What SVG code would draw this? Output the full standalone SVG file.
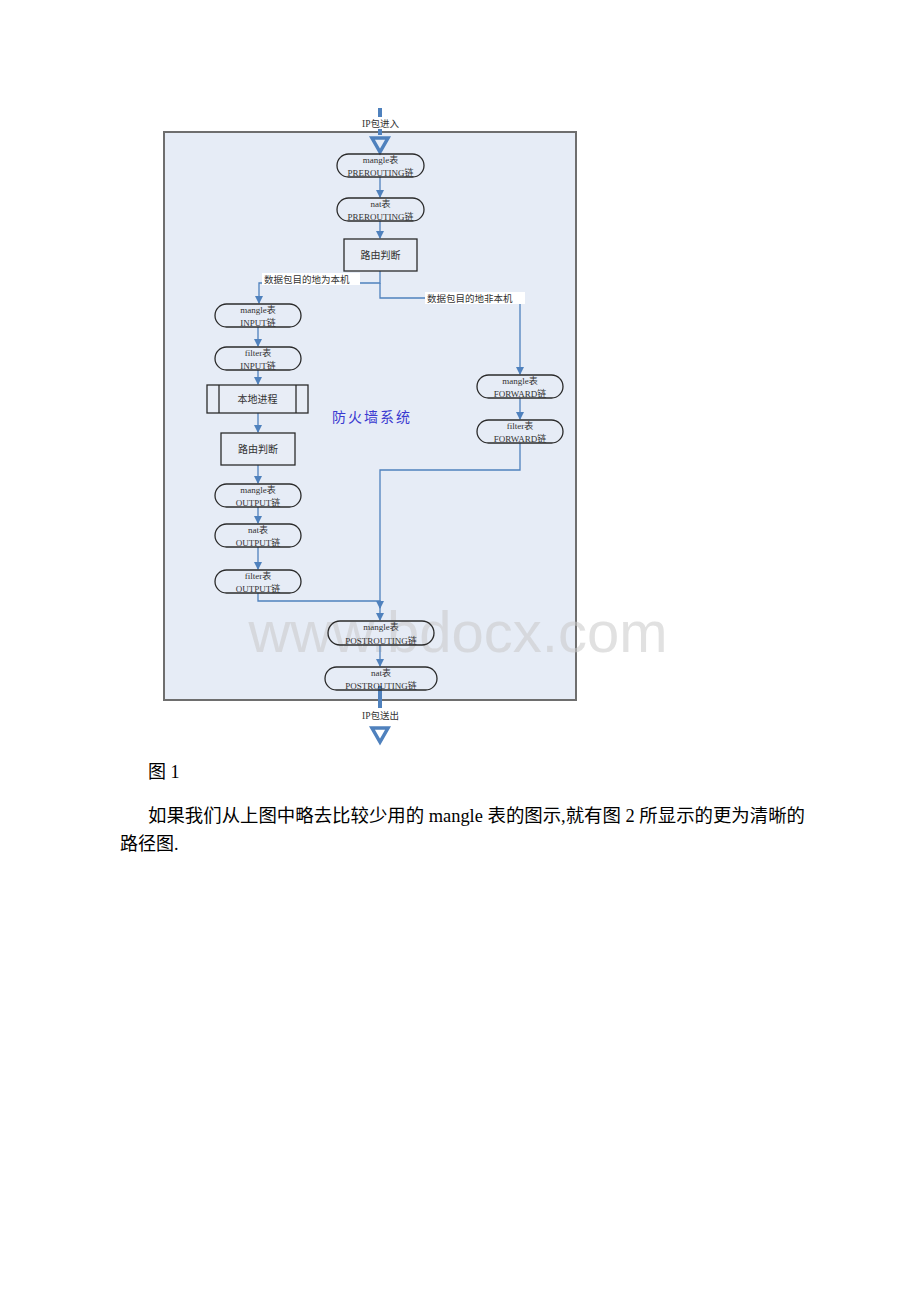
<svg xmlns="http://www.w3.org/2000/svg" width="920" height="1302" viewBox="0 0 920 1302">
<style>
.n{fill:none;stroke:#2b2b2b;stroke-width:1.3}
.b{fill:#e8edf6;stroke:#2b2b2b;stroke-width:1.3}
.t{font-family:"Liberation Serif","Noto Sans CJK SC",serif;font-size:9px;fill:#333;text-anchor:middle}
.t2{font-family:"Liberation Serif","Noto Sans CJK SC",serif;font-size:10px;fill:#333;text-anchor:middle}
.c{fill:none;stroke:#4f81bd;stroke-width:1.3}
.lbl{font-family:"Liberation Serif","Noto Sans CJK SC",serif;font-size:9.5px;fill:#333}
.p{font-family:"Liberation Serif","Noto Sans CJK SC",serif;font-size:18px;fill:#000}
</style>
<defs>
<marker id="a" markerWidth="8" markerHeight="8" refX="7" refY="4" orient="auto" markerUnits="userSpaceOnUse">
<path d="M0,0 L8,4 L0,8 Z" fill="#4f81bd"/>
</marker>
</defs>
<rect width="920" height="1302" fill="#fff"/>
<g id="frame">
<rect x="164" y="132" width="412" height="568" fill="#e6ecf6" stroke="#6e6e6e" stroke-width="2"/>
<text x="332" y="422" font-family="'Noto Sans CJK SC',sans-serif" font-size="14" fill="#3a3ad0" letter-spacing="2">防火墙系统</text>
<text x="458" y="652" font-family="'Liberation Sans',sans-serif" font-size="58" fill="#c8c8c8" fill-opacity="0.55" text-anchor="middle">www.bdocx.com</text>
</g>
<g id="connectors">
<line x1="380" y1="108" x2="380" y2="135" stroke="#4f81bd" stroke-width="4"/>
<path d="M372,138 L388,138 L380,152 Z" fill="none" stroke="#4f81bd" stroke-width="3.5" stroke-linejoin="miter"/>
<line class="c" x1="380" y1="177" x2="380" y2="197" marker-end="url(#a)"/>
<line class="c" x1="380" y1="221" x2="380" y2="238" marker-end="url(#a)"/>
<path class="c" d="M380,271 V283 H259 V303" marker-end="url(#a)"/>
<path class="c" d="M380,283 V298 H520 V374" marker-end="url(#a)"/>
<line class="c" x1="258" y1="327" x2="258" y2="346" marker-end="url(#a)"/>
<line class="c" x1="258" y1="370" x2="258" y2="384" marker-end="url(#a)"/>
<line class="c" x1="258" y1="413" x2="258" y2="432" marker-end="url(#a)"/>
<line class="c" x1="258" y1="465" x2="258" y2="483" marker-end="url(#a)"/>
<line class="c" x1="258" y1="507" x2="258" y2="523" marker-end="url(#a)"/>
<line class="c" x1="258" y1="547" x2="258" y2="569" marker-end="url(#a)"/>
<line class="c" x1="520" y1="398" x2="520" y2="419" marker-end="url(#a)"/>
<path class="c" d="M520,443 V470 H380 V620" marker-end="url(#a)"/>
<path class="c" d="M258,593 V601 H380 V608" marker-end="url(#a)"/>
<line class="c" x1="380" y1="645" x2="380" y2="666" marker-end="url(#a)"/>
<line x1="380" y1="686" x2="380" y2="708" stroke="#4f81bd" stroke-width="4"/>
<path d="M372,728 L388,728 L380,742 Z" fill="none" stroke="#4f81bd" stroke-width="3.5"/>
<rect x="359" y="117" width="43" height="12" fill="#fff"/>
<text class="lbl" x="380.5" y="127" text-anchor="middle">IP包进入</text>
<rect x="262" y="273" width="98" height="12" fill="#fff"/>
<text class="lbl" x="264" y="283">数据包目的地为本机</text>
<rect x="425" y="292" width="100" height="12" fill="#fff"/>
<text class="lbl" x="427" y="302">数据包目的地非本机</text>
<rect x="359" y="709" width="43" height="12" fill="#fff"/>
<text class="lbl" x="380.5" y="719" text-anchor="middle">IP包送出</text>
</g>
<g id="n1"><rect class="n" x="337" y="154" width="87" height="23" rx="11.5"/><text class="t" x="380.5" y="163">mangle表</text><text class="t" x="380.5" y="176">PREROUTING链</text></g>
<g id="n2"><rect class="n" x="337" y="198" width="87" height="23" rx="11.5"/><text class="t" x="380.5" y="207">nat表</text><text class="t" x="380.5" y="220">PREROUTING链</text></g>
<g id="n3"><rect class="b" x="344" y="239" width="73" height="32"/><text class="t2" x="380.5" y="259">路由判断</text></g>
<g id="n4"><rect class="n" x="215" y="304" width="86" height="23" rx="11.5"/><text class="t" x="258" y="313">mangle表</text><text class="t" x="258" y="326">INPUT链</text></g>
<g id="n5"><rect class="n" x="215" y="347" width="86" height="23" rx="11.5"/><text class="t" x="258" y="356">filter表</text><text class="t" x="258" y="369">INPUT链</text></g>
<g id="n6"><rect class="b" x="207" y="385" width="101" height="28"/><line class="n" x1="219" y1="385" x2="219" y2="413"/><line class="n" x1="296" y1="385" x2="296" y2="413"/><text class="t2" x="257.5" y="403">本地进程</text></g>
<g id="n7"><rect class="b" x="221" y="433" width="74" height="32"/><text class="t2" x="258" y="453">路由判断</text></g>
<g id="n8"><rect class="n" x="215" y="484" width="86" height="23" rx="11.5"/><text class="t" x="258" y="493">mangle表</text><text class="t" x="258" y="506">OUTPUT链</text></g>
<g id="n9"><rect class="n" x="215" y="524" width="86" height="23" rx="11.5"/><text class="t" x="258" y="533">nat表</text><text class="t" x="258" y="546">OUTPUT链</text></g>
<g id="n10"><rect class="n" x="215" y="570" width="86" height="23" rx="11.5"/><text class="t" x="258" y="579">filter表</text><text class="t" x="258" y="592">OUTPUT链</text></g>
<g id="n11"><rect class="n" x="477" y="375" width="86" height="23" rx="11.5"/><text class="t" x="520" y="384">mangle表</text><text class="t" x="520" y="397">FORWARD链</text></g>
<g id="n12"><rect class="n" x="477" y="420" width="86" height="23" rx="11.5"/><text class="t" x="520" y="429">filter表</text><text class="t" x="520" y="442">FORWARD链</text></g>
<g id="n13"><rect class="n" x="328" y="621" width="106" height="24" rx="12"/><text class="t" x="381" y="630">mangle表</text><text class="t" x="381" y="644">POSTROUTING链</text></g>
<g id="n14"><rect class="n" x="325" y="667" width="112" height="23" rx="11.5"/><text class="t" x="381" y="676">nat表</text><text class="t" x="381" y="689">POSTROUTING链</text></g>
<g id="caption">
<text class="p" x="148" y="778">图 1</text>
<text class="p" x="148" y="822" textLength="657" lengthAdjust="spacingAndGlyphs">如果我们从上图中略去比较少用的 mangle 表的图示,就有图 2 所显示的更为清晰的</text>
<text class="p" x="120" y="850">路径图.</text>
</g>
</svg>
